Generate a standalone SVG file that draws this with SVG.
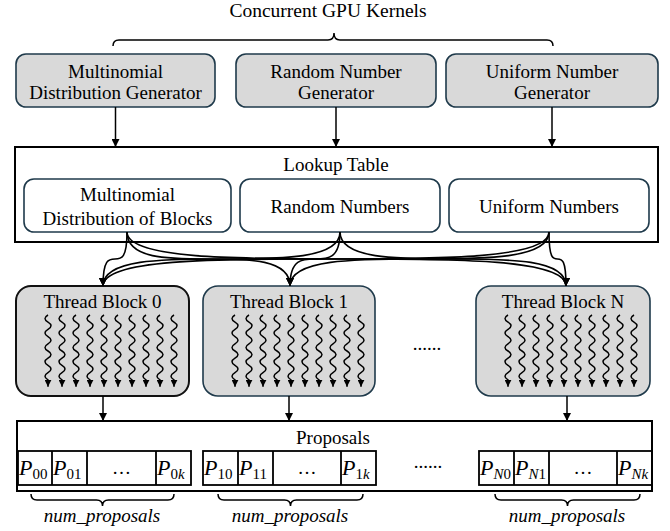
<svg xmlns="http://www.w3.org/2000/svg" width="670" height="531" viewBox="0 0 670 531">
<style>
text{font-family:"Liberation Serif","Times New Roman",serif;fill:#000}
.t{font-size:19px;text-anchor:middle}
.gray{fill:#d9d9d9;stroke:#1f3a4b;stroke-width:1.6}
.white{fill:#fff;stroke:#1f3a4b;stroke-width:1.6}
.box{fill:#fff;stroke:#000;stroke-width:2}
.ln{fill:none;stroke:#000;stroke-width:1.5}
.cur{fill:none;stroke:#000;stroke-width:1.6}
.wv{fill:none;stroke:#000;stroke-width:1.5}
.p{font-size:22px;font-style:italic}
.sub{font-size:15px;font-style:normal}
.it{font-style:italic}
.cell{fill:none;stroke:#000;stroke-width:1.8}
</style>
<defs>
<marker id="ah" viewBox="0 0 10 10" refX="10" refY="5" markerWidth="8" markerHeight="8" markerUnits="userSpaceOnUse" orient="auto"><path d="M0,0L10,5L0,10z" fill="#000"/></marker>
<marker id="ws" viewBox="0 0 10 10" refX="10" refY="5" markerWidth="7" markerHeight="7" markerUnits="userSpaceOnUse" orient="auto"><path d="M0,0L10,5L0,10z" fill="#000"/></marker>
<path id="w" class="wv" d="M2,0 q-6,3.6 0,7.2 t0,7.2 t0,7.2 t0,7.2 t0,7.2 t0,7.2 t0,7.2 t0,7.2 t0,7.2 v7" marker-end="url(#ws)"/>
<g id="waves">
<use href="#w" x="0"/><use href="#w" x="14"/><use href="#w" x="28"/><use href="#w" x="42"/><use href="#w" x="56"/><use href="#w" x="70"/><use href="#w" x="84"/><use href="#w" x="98"/><use href="#w" x="112"/><use href="#w" x="126"/>
</g>
</defs>

<text class="t" x="328" y="17" style="font-size:19.5px">Concurrent GPU Kernels</text>
<path id="brace-top" class="ln" d="M113,46 Q113,40 119,40 L328,40 Q334,40 334,33 Q334,40 340,40 L547,40 Q553,40 553,46"/>

<g id="gen-multinomial">
<rect class="gray" x="16" y="54" width="199" height="53" rx="10"/>
<text class="t" x="115.5" y="78">Multinomial</text>
<text class="t" x="115.5" y="99">Distribution Generator</text>
</g>
<g id="gen-random">
<rect class="gray" x="236" y="54" width="200" height="53" rx="10"/>
<text class="t" x="336" y="78">Random Number</text>
<text class="t" x="336" y="99">Generator</text>
</g>
<g id="gen-uniform">
<rect class="gray" x="446" y="54" width="212" height="53" rx="10"/>
<text class="t" x="552" y="78">Uniform Number</text>
<text class="t" x="552" y="99">Generator</text>
</g>

<g id="lookup-table">
<rect class="box" x="15" y="147" width="643" height="95"/>
<text class="t" x="336" y="171">Lookup Table</text>
</g>
<g id="lt-multinomial">
<rect class="white" x="24" y="179" width="207" height="53" rx="10"/>
<text class="t" x="127.5" y="201">Multinomial</text>
<text class="t" x="127.5" y="225">Distribution of Blocks</text>
</g>
<g id="lt-random">
<rect class="white" x="240" y="179" width="200" height="53" rx="10"/>
<text class="t" x="340" y="213">Random Numbers</text>
</g>
<g id="lt-uniform">
<rect class="white" x="449" y="179" width="200" height="53" rx="10"/>
<text class="t" x="549" y="213">Uniform Numbers</text>
</g>

<g id="block0">
<rect x="16" y="286" width="173" height="110" rx="15" fill="#d9d9d9" stroke="#111" stroke-width="2"/>
<text class="t" x="102.5" y="308">Thread Block 0</text>
<use href="#waves" x="46" y="315"/>
</g>
<g id="block1">
<rect class="gray" x="203" y="286" width="172" height="110" rx="15" stroke-width="2"/>
<text class="t" x="289" y="308">Thread Block 1</text>
<use href="#waves" x="233" y="315"/>
</g>
<text class="t" x="427" y="350">......</text>
<g id="blockN">
<rect class="gray" x="476" y="286" width="174" height="110" rx="15" stroke-width="2"/>
<text class="t" x="563" y="308">Thread Block N</text>
<use href="#waves" x="506" y="315"/>
</g>

<g id="proposals">
<rect class="box" x="17" y="421" width="635" height="70"/>
<text class="t" x="333" y="444">Proposals</text>
<g id="group0">
<rect class="cell" x="18" y="451" width="173" height="34"/>
<path class="cell" d="M52,451V485M87,451V485M156,451V485"/>
<text class="p" x="19" y="475">P<tspan class="sub" dy="4">00</tspan></text>
<text class="p" x="53" y="475">P<tspan class="sub" dy="4">01</tspan></text>
<text class="t" x="121.5" y="474">…</text>
<text class="p" x="157" y="475">P<tspan class="sub" dy="4">0<tspan class="it">k</tspan></tspan></text>
</g>
<g id="group1">
<rect class="cell" x="203" y="451" width="173" height="34"/>
<path class="cell" d="M238,451V485M273,451V485M341,451V485"/>
<text class="p" x="204" y="475">P<tspan class="sub" dy="4">10</tspan></text>
<text class="p" x="239" y="475">P<tspan class="sub" dy="4">11</tspan></text>
<text class="t" x="307" y="474">…</text>
<text class="p" x="342" y="475">P<tspan class="sub" dy="4">1<tspan class="it">k</tspan></tspan></text>
</g>
<text class="t" x="428" y="468">......</text>
<g id="groupN">
<rect class="cell" x="479" y="451" width="173" height="34"/>
<path class="cell" d="M514,451V485M549,451V485M617,451V485"/>
<text class="p" x="480" y="475">P<tspan class="sub" dy="4"><tspan class="it">N</tspan>0</tspan></text>
<text class="p" x="515" y="475">P<tspan class="sub" dy="4"><tspan class="it">N</tspan>1</tspan></text>
<text class="t" x="583" y="474">…</text>
<text class="p" x="618" y="475">P<tspan class="sub" dy="4"><tspan class="it">Nk</tspan></tspan></text>
</g>
</g>

<g id="braces">
<path class="ln" d="M31,494 Q31,500 37,500 L96.5,500 Q102.5,500 102.5,506 Q102.5,500 108.5,500 L168,500 Q174,500 174,494"/>
<path class="ln" d="M218,494 Q218,500 224,500 L284.5,500 Q290.5,500 290.5,506 Q290.5,500 296.5,500 L357,500 Q363,500 363,494"/>
<path class="ln" d="M495,494 Q495,500 501,500 L561.5,500 Q567.5,500 567.5,506 Q567.5,500 573.5,500 L634,500 Q640,500 640,494"/>
<text class="t it" x="102" y="522">num_proposals</text>
<text class="t it" x="290" y="522">num_proposals</text>
<text class="t it" x="567" y="522">num_proposals</text>
</g>

<g id="connectors">
<path class="ln" d="M115.5,107V147" marker-end="url(#ah)"/>
<path class="ln" d="M336,107V147" marker-end="url(#ah)"/>
<path class="ln" d="M552,107V147" marker-end="url(#ah)"/>
<path class="cur" d="M127,232 C127,259 121,259 115,259 C109,259 103,259 103,286" marker-end="url(#ah)"/>
<path class="cur" d="M127,232 C127,259 167.75,259 208.5,259 C249.25,259 290,259 290,286" marker-end="url(#ah)"/>
<path class="cur" d="M127,232 C127,259 236.75,259 346.5,259 C456.25,259 566,259 566,286" marker-end="url(#ah)"/>
<path class="cur" d="M340,232 C340,259 280.75,259 221.5,259 C162.25,259 103,259 103,286" marker-end="url(#ah)"/>
<path class="cur" d="M340,232 C340,259 327.5,259 315,259 C302.5,259 290,259 290,286" marker-end="url(#ah)"/>
<path class="cur" d="M340,232 C340,259 396.5,259 453,259 C509.5,259 566,259 566,286" marker-end="url(#ah)"/>
<path class="cur" d="M549,232 C549,259 437.5,259 326,259 C214.5,259 103,259 103,286" marker-end="url(#ah)"/>
<path class="cur" d="M549,232 C549,259 484.25,259 419.5,259 C354.75,259 290,259 290,286" marker-end="url(#ah)"/>
<path class="cur" d="M549,232 C549,259 553.25,259 557.5,259 C561.75,259 566,259 566,286" marker-end="url(#ah)"/>
<path class="ln" d="M103,396V421" marker-end="url(#ah)"/>
<path class="ln" d="M289,396V421" marker-end="url(#ah)"/>
<path class="ln" d="M567,396V421" marker-end="url(#ah)"/>
</g>
</svg>
